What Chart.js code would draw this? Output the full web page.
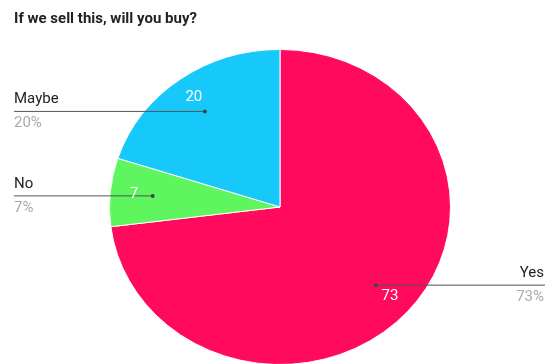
<!DOCTYPE html>
<html>
<head>
  <meta charset="utf-8">
  <title>If we sell this, will you buy?</title>
  <script src="https://cdn.jsdelivr.net/npm/chart.js"></script>
  <style>
    body {
      margin: 0;
      padding: 0;
      background-color: #ffffff;
      overflow: hidden;
    }
    #wrap {
      width: 545px;
      height: 364px;
      overflow: hidden;
    }
  </style>
</head>
<body>
  <div id="wrap">
    <canvas id="myChart" width="545" height="380"></canvas>
  </div>

  <script>
    // Data
    const title = 'If we sell this, will you buy?';
    const labels = ['Yes', 'No', 'Maybe'];
    const values = [73, 7, 20];
    const colors = ['#ff0a5c', '#5ef55e', '#17c9fb'];

    // the reference pie is a bit squashed vertically
    const squashY = 158 / 171;
    const font = 'Roboto, "Noto Sans", sans-serif';

    const ellipsePlugin = {
      id: 'ellipse',
      beforeDatasetsDraw(chart) {
        const arc = chart.getDatasetMeta(0).data[0];
        const ctx = chart.ctx;
        ctx.save();
        ctx.translate(arc.x, arc.y);
        ctx.scale(1, squashY);
        ctx.translate(-arc.x, -arc.y);
      },
      afterDatasetsDraw(chart) {
        chart.ctx.restore();
      }
    };

    const labelPlugin = {
      id: 'sliceLabels',
      afterDraw(chart) {
        const ctx = chart.ctx;
        const meta = chart.getDatasetMeta(0);
        const total = values.reduce((a, b) => a + b, 0);
        const W = chart.width;

        ctx.save();
        // title
        ctx.fillStyle = '#222222';
        ctx.font = 'bold 15px ' + font;
        ctx.textAlign = 'left';
        ctx.textBaseline = 'middle';
        ctx.fillText(title, 14, 19);

        meta.data.forEach((arc, i) => {
          const p = arc.getProps(['x', 'y', 'startAngle', 'endAngle', 'outerRadius'], true);
          const mid = (p.startAngle + p.endAngle) / 2;
          const dx = Math.cos(mid), dy = Math.sin(mid) * squashY;
          const dotX = p.x + dx * p.outerRadius * 0.75;
          const dotY = p.y + dy * p.outerRadius * 0.75;
          const right = dotX > p.x;

          // leader line
          ctx.strokeStyle = '#555555';
          ctx.lineWidth = 1;
          ctx.beginPath();
          ctx.moveTo(right ? W : 14, dotY);
          ctx.lineTo(dotX, dotY);
          ctx.stroke();
          ctx.fillStyle = '#444444';
          ctx.beginPath();
          ctx.arc(dotX, dotY, 2, 0, Math.PI * 2);
          ctx.fill();

          // value inside slice
          ctx.fillStyle = '#ffffff';
          ctx.font = '15px ' + font;
          ctx.textAlign = 'center';
          ctx.textBaseline = 'middle';
          ctx.fillText(String(values[i]), p.x + dx * p.outerRadius * 0.86, p.y + dy * p.outerRadius * 0.86);

          // outside label
          const tx = right ? W - 1 : 14;
          ctx.textAlign = right ? 'right' : 'left';
          ctx.fillStyle = '#222222';
          ctx.font = '15px ' + font;
          ctx.fillText(labels[i], tx, dotY - 12);
          ctx.fillStyle = '#aaaaaa';
          ctx.fillText(Math.round(values[i] / total * 100) + '%', tx, dotY + 12);
        });
        ctx.restore();
      }
    };

    const ctx = document.getElementById('myChart').getContext('2d');
    const chart = new Chart(ctx, {
      type: 'pie',
      data: {
        labels: labels,
        datasets: [{
          data: values,
          backgroundColor: colors,
          borderColor: '#ffffff',
          borderWidth: 1
        }]
      },
      options: {
        responsive: false,
        animation: false,
        events: [],
        layout: {
          padding: { left: 109, right: 94, top: 36, bottom: 2 }
        },
        plugins: {
          legend: { display: false },
          tooltip: { enabled: false },
          title: { display: false }
        }
      },
      plugins: [ellipsePlugin, labelPlugin]
    });
  </script>
</body>
</html>
